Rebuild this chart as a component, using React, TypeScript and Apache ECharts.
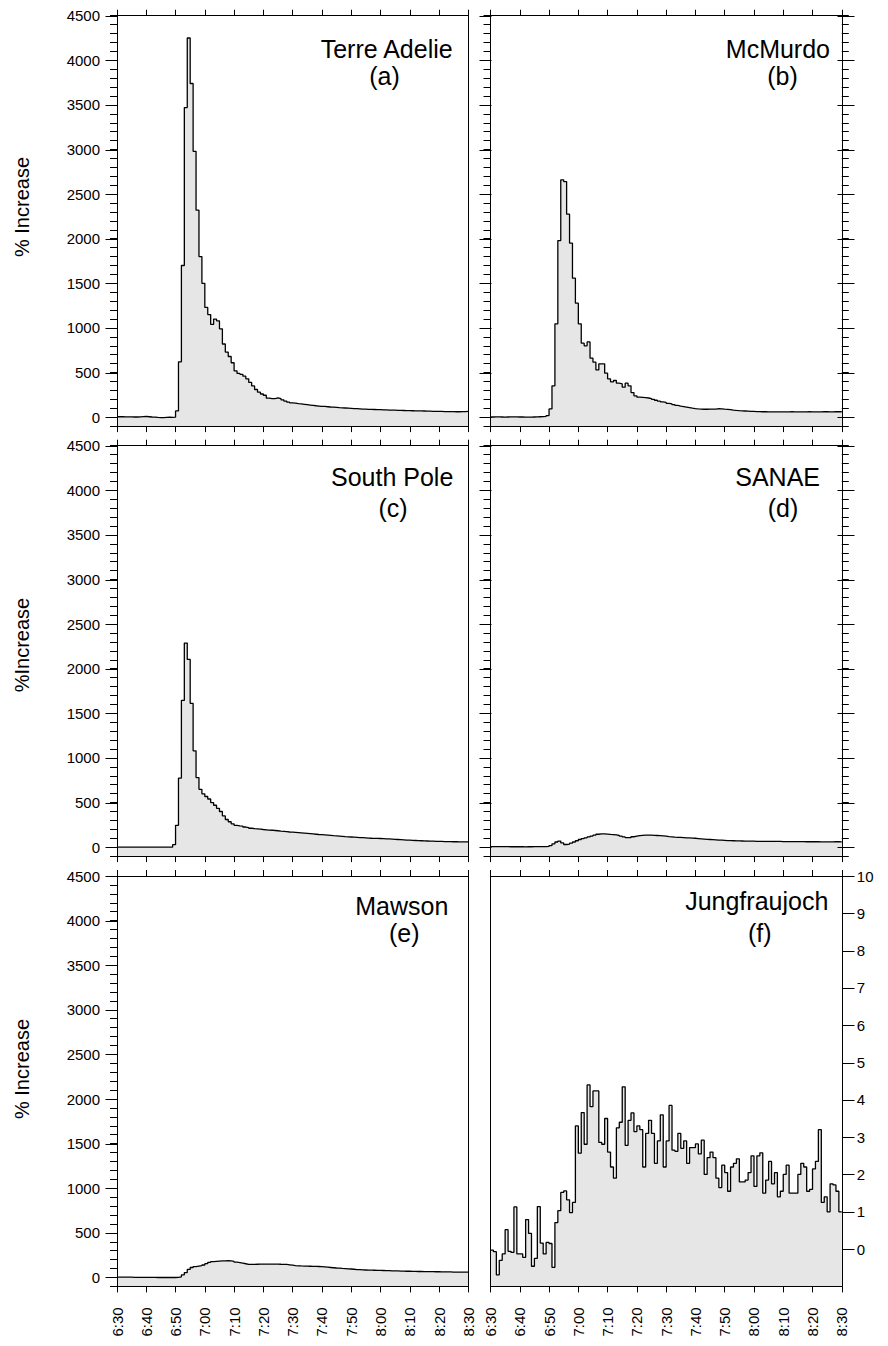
import React, { useEffect, useRef } from "react";
import * as echarts from "echarts";

const START_MIN = 390; // 6:30 in minutes
const END_MIN = 510; // 8:30
const X_TICK_LABELS = ["6:30", "6:40", "6:50", "7:00", "7:10", "7:20", "7:30", "7:40", "7:50", "8:00", "8:10", "8:20", "8:30"];
const LEFT_TICKS = [0, 500, 1000, 1500, 2000, 2500, 3000, 3500, 4000, 4500];
const RIGHT_TICKS_F = [0, 1, 2, 3, 4, 5, 6, 7, 8, 9, 10];
const STATIONS = ["Terre Adelie", "McMurdo", "South Pole", "SANAE", "Mawson", "Jungfraujoch"];
const LETTERS = ["(a)", "(b)", "(c)", "(d)", "(e)", "(f)"];
const Y_TITLES = ["% Increase", "%Increase", "% Increase"];

// one value per minute, 6:30 .. 8:29
const terreAdelie = [
  5, 6, 4, 3, 4, 2, 2, 4, 6, 8, 5, 2, 0, -3, -5, -4, -2, 0, -2, 0,
  70, 620, 1700, 3470, 4250, 3740, 2980, 2320, 1800, 1500,
  1230, 1150, 1040, 1100, 1080, 990, 820, 730, 680, 610,
  520, 490, 480, 460, 430, 390, 350, 310, 280, 260,
  246, 213, 209, 209, 216, 209, 194, 180, 168, 160,
  157, 152, 148, 144, 140, 136, 132, 128, 125, 122,
  120, 117, 114, 112, 110, 107, 105, 103, 101, 99,
  97, 95, 93, 91, 90, 88, 87, 86, 85, 84,
  82, 81, 80, 79, 78, 77, 76, 75, 74, 73,
  72, 71, 70, 70, 69, 68, 67, 66, 66, 65,
  64, 63, 63, 62, 62, 61, 61, 62, 63, 64,
];
const mcMurdo = [
  2, 3, 3, 2, 1, 2, 3, 4, 3, 2, 2, 1, 0, 1, 2, 3, 5, 6, 8, 18,
  93, 351, 1046, 1980, 2660, 2641, 2275, 1950, 1558, 1278,
  1046, 829, 800, 844, 661, 616, 530, 598, 598, 493,
  430, 396, 411, 381, 374, 336, 381, 351, 276, 239,
  224, 222, 220, 215, 208, 200, 190, 180, 172, 165,
  155, 148, 140, 132, 125, 119, 113, 107, 101, 96,
  92, 90, 89, 89, 90, 90, 91, 95, 93, 90,
  88, 85, 80, 76, 73, 71, 69, 67, 65, 64,
  63, 62, 61, 61, 60, 60, 60, 60, 59, 59,
  60, 60, 62, 60, 59, 59, 60, 60, 61, 60,
  59, 60, 60, 61, 61, 60, 60, 61, 61, 61,
];
const southPole = [
  0, 0, 0, 1, 0, 0, 0, 0, 0, 0, 0, 0, 0, 0, 0, 0, 0, 0, 0, 28,
  245, 775, 1645, 2288, 2104, 1612, 1080, 780, 648, 598,
  568, 540, 500, 470, 435, 400, 350, 310, 285, 262,
  245, 238, 235, 226, 220, 212, 208, 205, 202, 198,
  195, 192, 190, 187, 184, 180, 177, 174, 170, 168,
  166, 163, 160, 157, 154, 151, 148, 145, 142, 140,
  138, 135, 132, 129, 127, 124, 121, 118, 116, 114,
  112, 110, 108, 106, 104, 102, 100, 99, 98, 97,
  96, 94, 92, 90, 88, 86, 84, 82, 80, 78,
  76, 75, 73, 72, 70, 69, 68, 67, 66, 65,
  64, 63, 62, 62, 61, 61, 60, 60, 59, 59,
];
const sanae = [
  6, 7, 7, 6, 6, 6, 5, 5, 5, 5, 5, 4, 5, 5, 6, 6, 6, 6, 7, 8,
  18, 38, 58, 68, 48, 30, 34, 45, 58, 72,
  86, 96, 105, 115, 125, 135, 145, 150, 149, 146,
  143, 141, 137, 131, 123, 115, 106, 108, 117, 124,
  130, 133, 135, 136, 135, 133, 131, 129, 126, 123,
  119, 116, 113, 111, 109, 107, 105, 104, 102, 100,
  97, 94, 91, 88, 86, 84, 82, 80, 78, 76,
  74, 73, 72, 71, 70, 69, 68, 68, 67, 67,
  66, 66, 66, 65, 65, 65, 64, 64, 64, 63,
  63, 63, 63, 62, 62, 62, 62, 61, 61, 61,
  61, 61, 60, 60, 60, 60, 60, 61, 61, 60,
];
const mawson = [
  3, 3, 3, 3, 3, 2, 2, 2, 2, 2, 1, 1, 1, 0, 0, 0, 0, 0, 0, 0,
  1, 8, 30, 55, 90, 112, 122, 128, 132, 140,
  155, 170, 178, 181, 183, 185, 187, 188, 185, 180,
  172, 166, 160, 154, 148, 146, 147, 148, 149, 150,
  150, 149, 149, 150, 149, 148, 146, 146, 142, 138,
  134, 131, 129, 128, 127, 126, 125, 124, 123, 121,
  118, 115, 112, 109, 106, 104, 101, 99, 97, 95,
  92, 89, 87, 85, 84, 83, 82, 81, 80, 79,
  78, 77, 76, 75, 74, 73, 72, 71, 70, 70,
  69, 68, 67, 67, 66, 66, 65, 65, 64, 64,
  63, 63, 62, 62, 61, 61, 61, 60, 60, 60,
];
const jungfraujoch = [
  -0.03, -0.07, -0.69, -0.3, -0.13, 0.52, -0.06, -0.09, 1.13, -0.13,
  -0.13, -0.22, 0.79, 0.42, -0.46, -0.25, 1.14, 0.16, -0.13, 0.18,
  0.15, -0.49, 0.71, 1.03, 1.52, 1.56, 1.32, 0.98, 1.25, 3.3,
  2.57, 3.66, 2.81, 4.4, 3.82, 4.24, 4.24, 2.86, 2.81, 3.5,
  2.6, 2.2, 1.9, 3.25, 3.4, 4.35, 2.78, 3.45, 3.65, 3.15,
  3.3, 3.2, 2.2, 3.1, 3.45, 3.1, 2.3, 2.9, 3.6, 2.2,
  2.9, 3.85, 2.65, 2.62, 3.1, 2.7, 2.9, 2.3, 2.72, 2.72,
  2.82, 2.55, 2.92, 2.0, 2.45, 2.6, 2.45, 1.9, 1.65, 2.25,
  2.05, 1.55, 2.2, 2.3, 2.42, 1.8, 1.8, 1.85, 2.05, 2.5,
  1.68, 2.5, 2.58, 1.5, 1.85, 2.35, 1.75, 2.05, 1.4, 1.55,
  2.0, 2.25, 1.5, 1.5, 1.5, 2.0, 2.3, 2.2, 1.55, 1.6,
  2.15, 2.35, 3.2, 1.25, 1.4, 1.0, 1.75, 1.72, 1.55, 1.0,
];
const SERIES = [terreAdelie, mcMurdo, southPole, sanae, mawson, jungfraujoch];

const FONT = "'Liberation Sans', Arial, Helvetica, sans-serif";

// layout
const COL_LEFT = [117, 490.5];
const COL_W = 351.3;
const ROW_TOP = [15.7, 445.7, 876];
const ROW_H = 410.4;
const NAME_FS = 25;
const NAME_POS = [
  [452.7, 57.3, 384.5, 85],
  [830, 57.3, 782.5, 85],
  [453.3, 486, 393, 516.5],
  [820, 485.5, 783, 516.5],
  [448.3, 914.3, 404.3, 942],
  [828.3, 910, 759.7, 942],
];
const Y_TITLE_POS = [
  [22, 207],
  [22, 645],
  [22, 1069],
];

function toPairs(vals: number[]) {
  const pts: number[][] = vals.map((v, i) => [START_MIN + i, v]);
  pts.push([END_MIN, vals[vals.length - 1]]);
  return pts;
}

// major ticks drawn through the axes' own scale
function majorTickSeries(xIdx: number, yIdx: number, leftOut: boolean, rightOut: boolean, rightIn: boolean) {
  return {
    type: "custom",
    xAxisIndex: xIdx,
    yAxisIndex: yIdx,
    clip: false,
    silent: true,
    z: 12,
    data: LEFT_TICKS.map((v) => [START_MIN, v]),
    renderItem: (_params: any, api: any) => {
      const v = api.value(1);
      const pl = api.coord([START_MIN, v]);
      const pr = api.coord([END_MIN, v]);
      const y = Math.round(pl[1]) + 0.5;
      const children: any[] = [];
      const st = { stroke: "#000", lineWidth: 1 };
      if (leftOut) {
        const x = Math.round(pl[0]) + 0.5;
        children.push({ type: "line", shape: { x1: x - 12, y1: y, x2: x, y2: y }, style: st });
      }
      if (rightOut || rightIn) {
        const x = Math.round(pr[0]) + 0.5;
        children.push({
          type: "line",
          shape: { x1: rightIn ? x - 5 : x, y1: y, x2: rightOut ? x + 12 : x, y2: y },
          style: st,
        });
      }
      return { type: "group", children };
    },
  };
}

function buildOption() {
  const grid: any[] = [];
  const xAxis: any[] = [];
  const yAxis: any[] = [];
  const series: any[] = [];
  const graphic: any[] = [];
  const black = { color: "#000", width: 1 };

  const hidden = { show: false };
  for (let i = 0; i < 6; i++) {
    const row = Math.floor(i / 2);
    const col = i % 2;
    grid.push({
      left: COL_LEFT[col],
      top: ROW_TOP[row],
      width: COL_W,
      height: ROW_H,
      containLabel: false,
      show: false,
    });
    const xBase = {
      type: "value",
      gridIndex: i,
      min: START_MIN,
      max: END_MIN,
      interval: 10,
      z: 10,
      splitLine: hidden,
      axisLine: { show: true, onZero: false, lineStyle: black },
      axisTick: { show: true, inside: false, length: 6, lineStyle: black },
    };
    const xb = xAxis.length;
    xAxis.push({
      ...xBase,
      position: "bottom",
      axisLabel: {
        show: row === 2,
        rotate: 90,
        margin: 21,
        fontSize: 15,
        fontFamily: FONT,
        color: "#000",
        formatter: (v: number) => X_TICK_LABELS[Math.round((v - START_MIN) / 10)] ?? "",
      },
    });
    xAxis.push({ ...xBase, position: "top", axisLabel: hidden });

    const dataAxis = yAxis.length;
    if (i === 5) {
      yAxis.push({
        type: "value",
        gridIndex: i,
        position: "right",
        min: -1,
        max: 10,
        interval: 1,
        z: 10,
        splitLine: hidden,
        axisLine: { show: true, onZero: false, lineStyle: black },
        axisTick: hidden,
        axisLabel: {
          show: true,
          customValues: RIGHT_TICKS_F,
          margin: 15,
          fontSize: 15,
          fontFamily: FONT,
          color: "#000",
          formatter: (v: number) => String(v),
        },
      });
      yAxis.push({
        type: "value",
        gridIndex: i,
        position: "left",
        min: -1,
        max: 10,
        z: 10,
        splitLine: hidden,
        axisLine: { show: true, onZero: false, lineStyle: black },
        axisTick: hidden,
        axisLabel: hidden,
      });
      series.push({
        type: "custom",
        xAxisIndex: xb,
        yAxisIndex: dataAxis,
        clip: false,
        silent: true,
        z: 12,
        data: RIGHT_TICKS_F.map((v) => [END_MIN, v]),
        renderItem: (_params: any, api: any) => {
          const p = api.coord([END_MIN, api.value(1)]);
          const y = Math.round(p[1]) + 0.5;
          const x = Math.round(p[0]) + 0.5;
          return {
            type: "line",
            shape: { x1: x, y1: y, x2: x + 12, y2: y },
            style: { stroke: "#000", lineWidth: 1 },
          };
        },
      });
    } else {
      const yBase = {
        type: "value",
        gridIndex: i,
        min: -100,
        max: 4500,
        z: 10,
        splitLine: hidden,
      };
      // minor ticks + axis line (left)
      yAxis.push({
        ...yBase,
        position: "left",
        interval: 100,
        axisLine: { show: true, onZero: false, lineStyle: black },
        axisTick: { show: true, inside: false, length: 7, lineStyle: black },
        axisLabel: hidden,
      });
      if (col === 0) {
        // labels (left)
        yAxis.push({
          ...yBase,
          position: "left",
          axisLine: { show: false, onZero: false },
          axisTick: hidden,
          axisLabel: {
            show: true,
            customValues: LEFT_TICKS,
            margin: 17,
            fontSize: 15,
            fontFamily: FONT,
            color: "#000",
            formatter: (v: number) => String(v),
          },
        });
        yAxis.push({
          ...yBase,
          position: "right",
          axisLine: { show: true, onZero: false, lineStyle: black },
          axisTick: hidden,
          axisLabel: hidden,
        });
        series.push(majorTickSeries(xb, dataAxis, true, false, false));
      } else {
        yAxis.push({
          ...yBase,
          position: "right",
          interval: 100,
          axisLine: { show: true, onZero: false, lineStyle: black },
          axisTick: { show: true, inside: false, length: 7, lineStyle: black },
          axisLabel: hidden,
        });
        series.push(majorTickSeries(xb, dataAxis, true, true, true));
      }
    }

    series.push({
      type: "line",
      xAxisIndex: xb,
      yAxisIndex: dataAxis,
      data: toPairs(SERIES[i]),
      step: "end",
      showSymbol: false,
      symbol: "none",
      silent: true,
      z: 2,
      lineStyle: { color: "#000", width: 1.3 },
      areaStyle: { color: "#e6e6e6", opacity: 1, origin: "start" },
    });

    const p = NAME_POS[i];
    const off = NAME_FS * 0.3465;
    graphic.push({
      type: "text",
      x: p[0],
      y: p[1] - off,
      z: 20,
      style: {
        text: STATIONS[i],
        fontSize: NAME_FS,
        fontFamily: FONT,
        fill: "#000",
        align: "right",
        textAlign: "right",
        verticalAlign: "middle",
        textVerticalAlign: "middle",
      },
    });
    graphic.push({
      type: "text",
      x: p[2],
      y: p[3] - off,
      z: 20,
      style: {
        text: LETTERS[i],
        fontSize: NAME_FS,
        fontFamily: FONT,
        fill: "#000",
        align: "center",
        textAlign: "center",
        verticalAlign: "middle",
        textVerticalAlign: "middle",
      },
    });
  }

  for (let r = 0; r < 3; r++) {
    graphic.push({
      type: "text",
      x: Y_TITLE_POS[r][0],
      y: Y_TITLE_POS[r][1],
      rotation: Math.PI / 2,
      z: 20,
      style: {
        text: Y_TITLES[r],
        fontSize: 20,
        fontFamily: FONT,
        fill: "#000",
        align: "center",
        textAlign: "center",
        verticalAlign: "middle",
        textVerticalAlign: "middle",
      },
    });
  }

  return {
    animation: false,
    backgroundColor: "#fff",
    grid,
    xAxis,
    yAxis,
    series,
    graphic,
  };
}

export default function App() {
  const ref = useRef<HTMLDivElement>(null);
  useEffect(() => {
    if (!ref.current) return;
    const chart = echarts.init(ref.current, undefined, { renderer: "svg" });
    chart.setOption(buildOption() as any);
    return () => chart.dispose();
  }, []);
  return (
    <div
      ref={ref}
      style={{ position: "absolute", left: 0, top: 0, width: 888, height: 1346, background: "#fff" }}
    />
  );
}
